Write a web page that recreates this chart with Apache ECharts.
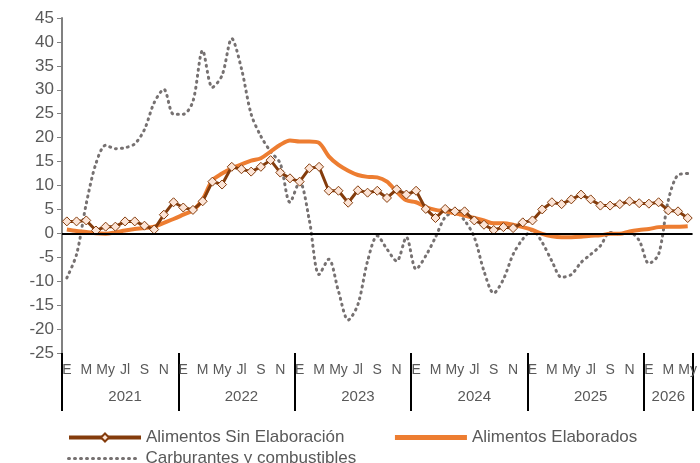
<!DOCTYPE html>
<html>
<head>
<meta charset="utf-8">
<script src="https://cdn.jsdelivr.net/npm/echarts@6/dist/echarts.min.js"></script>
<style>html,body{margin:0;padding:0;background:#fff}#chart{width:700px;height:463px}</style>
</head>
<body>
<div id="chart"></div>
<script>
var monthNames = ['E', 'F', 'M', 'A', 'My', 'J', 'Jl', 'Ag', 'S', 'O', 'N', 'D'];
var years = ['2021', '2022', '2023', '2024', '2025', '2026'];
var monthsLast = 5; // 2026: E..My

var sinElaboracion = [2.5, 2.5, 2.7, 0.6, 1.4, 1.4, 2.5, 2.5, 1.6, 0.8, 3.9, 6.5,
    5.4, 4.9, 6.7, 10.8, 10.2, 13.9, 13.4, 12.9, 13.9, 15.3, 12.7, 11.5,
    10.8, 13.6, 13.9, 8.9, 8.9, 6.4, 9.0, 8.5, 8.9, 7.4, 9.2, 8.1,
    8.9, 5.1, 3.2, 5.1, 4.6, 4.6, 2.7, 1.8, 0.7, 1.3, 1.1, 2.3,
    2.7, 5.0, 6.5, 6.1, 7.1, 8.1, 7.1, 5.8, 5.8, 6.1, 6.7, 6.3,
    6.2, 6.5, 4.8, 4.6, 3.2];
var elaborados = [0.8, 0.5, 0.3, 0.0, -0.1, 0.2, 0.6, 0.9, 1.1, 1.4, 2.2, 3.0,
    3.9, 4.8, 7.1, 11.1, 12.5, 13.6, 14.4, 15.2, 15.7, 17.1, 18.5, 19.4,
    19.2, 19.2, 18.9, 16.1, 14.3, 13.1, 12.2, 11.8, 11.7, 10.8, 8.7, 6.9,
    6.5, 5.5, 4.9, 4.6, 4.2, 3.7, 3.2, 2.7, 2.1, 2.1, 1.8, 1.3,
    0.7, -0.1, -0.6, -0.8, -0.8, -0.7, -0.5, -0.4, -0.1, -0.1, 0.4, 0.7,
    0.9, 1.3, 1.4, 1.4, 1.5];
var carburantes = [-9.3, -4.4, 6.2, 14.6, 18.4, 17.7, 17.9, 18.7, 21.7, 27.3, 30.1, 24.9,
    24.9, 27.6, 38.2, 30.5, 33.0, 40.7, 34.4, 24.9, 20.3, 17.1, 14.6, 6.5,
    10.8, 2.7, -8.6, -5.4, -12.1, -18.1, -14.9, -5.8, -0.5, -3.3, -5.8, -0.8,
    -7.5, -4.7, -0.8, 3.4, 4.4, 2.7, -0.8, -7.9, -12.5, -9.6, -4.4, -1.2,
    0.6, -1.9, -5.8, -9.2, -8.6, -6.1, -4.4, -2.6, 0.2, -0.1, 0.2, -1.5,
    -6.3, -4.4, 6.9, 12.2, 12.5];

var cats = [];
for (var y = 0; y < years.length; y++) {
    var n = (y === years.length - 1) ? monthsLast : 12;
    for (var m = 0; m < n; m++) cats.push(monthNames[m] + ' ' + years[y]);
}

var chart = echarts.init(document.getElementById('chart'));
var txt = '#595959';
var font = 'Liberation Sans';
chart.setOption({
    animation: false,
    grid: { left: 62, right: 3, top: 18, bottom: 110 },
    legend: [{
        data: [
            { name: 'Alimentos Sin Elaboración', lineStyle: { width: 4 } },
            { name: 'Alimentos Elaborados', itemStyle: { opacity: 0 }, lineStyle: { width: 5 } }
        ],
        left: 62, top: 424, itemGap: 48, itemWidth: 72, itemHeight: 10,
        textStyle: { fontSize: 17, color: txt, fontFamily: font }
    }, {
        data: [{ name: 'Carburantes y combustibles', itemStyle: { opacity: 0 }, lineStyle: { width: 3 } }],
        left: 62, top: 445, itemWidth: 72, itemHeight: 10,
        textStyle: { fontSize: 17, color: txt, fontFamily: font }
    }],
    xAxis: [{
        type: 'category', data: cats, position: 'bottom',
        axisLine: { show: false, onZero: false }, axisTick: { show: false },
        axisLabel: {
            interval: 1, color: txt, fontSize: 14, margin: 10, fontFamily: font,
            formatter: function (v) { return v.split(' ')[0]; }
        }
    }, {
        type: 'category', data: cats, position: 'bottom',
        axisLine: { show: false, onZero: false },
        axisTick: {
            show: true, length: 58, lineStyle: { color: '#000', width: 2 },
            interval: function (i) { return i % 12 === 0; }
        },
        axisLabel: {
            color: txt, fontSize: 15, margin: 36, fontFamily: font,
            interval: function (i) { return i % 12 === 6 || i === 62; },
            formatter: function (v) { return v.split(' ')[1]; }
        }
    }],
    yAxis: {
        type: 'value', min: -25, max: 45, interval: 5,
        splitLine: { show: false },
        axisLine: { show: true, lineStyle: { color: '#808080', width: 2 } },
        axisTick: { show: true, length: 5, lineStyle: { color: '#808080' } },
        axisLabel: { color: txt, fontSize: 17, margin: 8, fontFamily: font }
    },
    series: [{
        name: 'Carburantes y combustibles', type: 'line', data: carburantes,
        smooth: 0.3, showSymbol: false, symbol: 'none',
        itemStyle: { color: '#767171' },
        lineStyle: { color: '#767171', width: 3, type: [1, 5], cap: 'round' },
        markLine: {
            silent: true, symbol: 'none', label: { show: false },
            lineStyle: { color: '#000', width: 2, type: 'solid' },
            data: [{ yAxis: 0 }]
        },
        z: 1
    }, {
        name: 'Alimentos Elaborados', type: 'line', data: elaborados,
        smooth: 0.3, showSymbol: false, symbol: 'none',
        itemStyle: { color: '#ED7D31' },
        lineStyle: { color: '#ED7D31', width: 4 },
        z: 2
    }, {
        name: 'Alimentos Sin Elaboración', type: 'line', data: sinElaboracion,
        symbol: 'diamond', symbolSize: 9, showAllSymbol: true,
        itemStyle: { color: '#FCE4D6', borderColor: '#843C0C', borderWidth: 1 },
        lineStyle: { color: '#843C0C', width: 3 },
        z: 3
    }]
});
</script>
</body>
</html>
